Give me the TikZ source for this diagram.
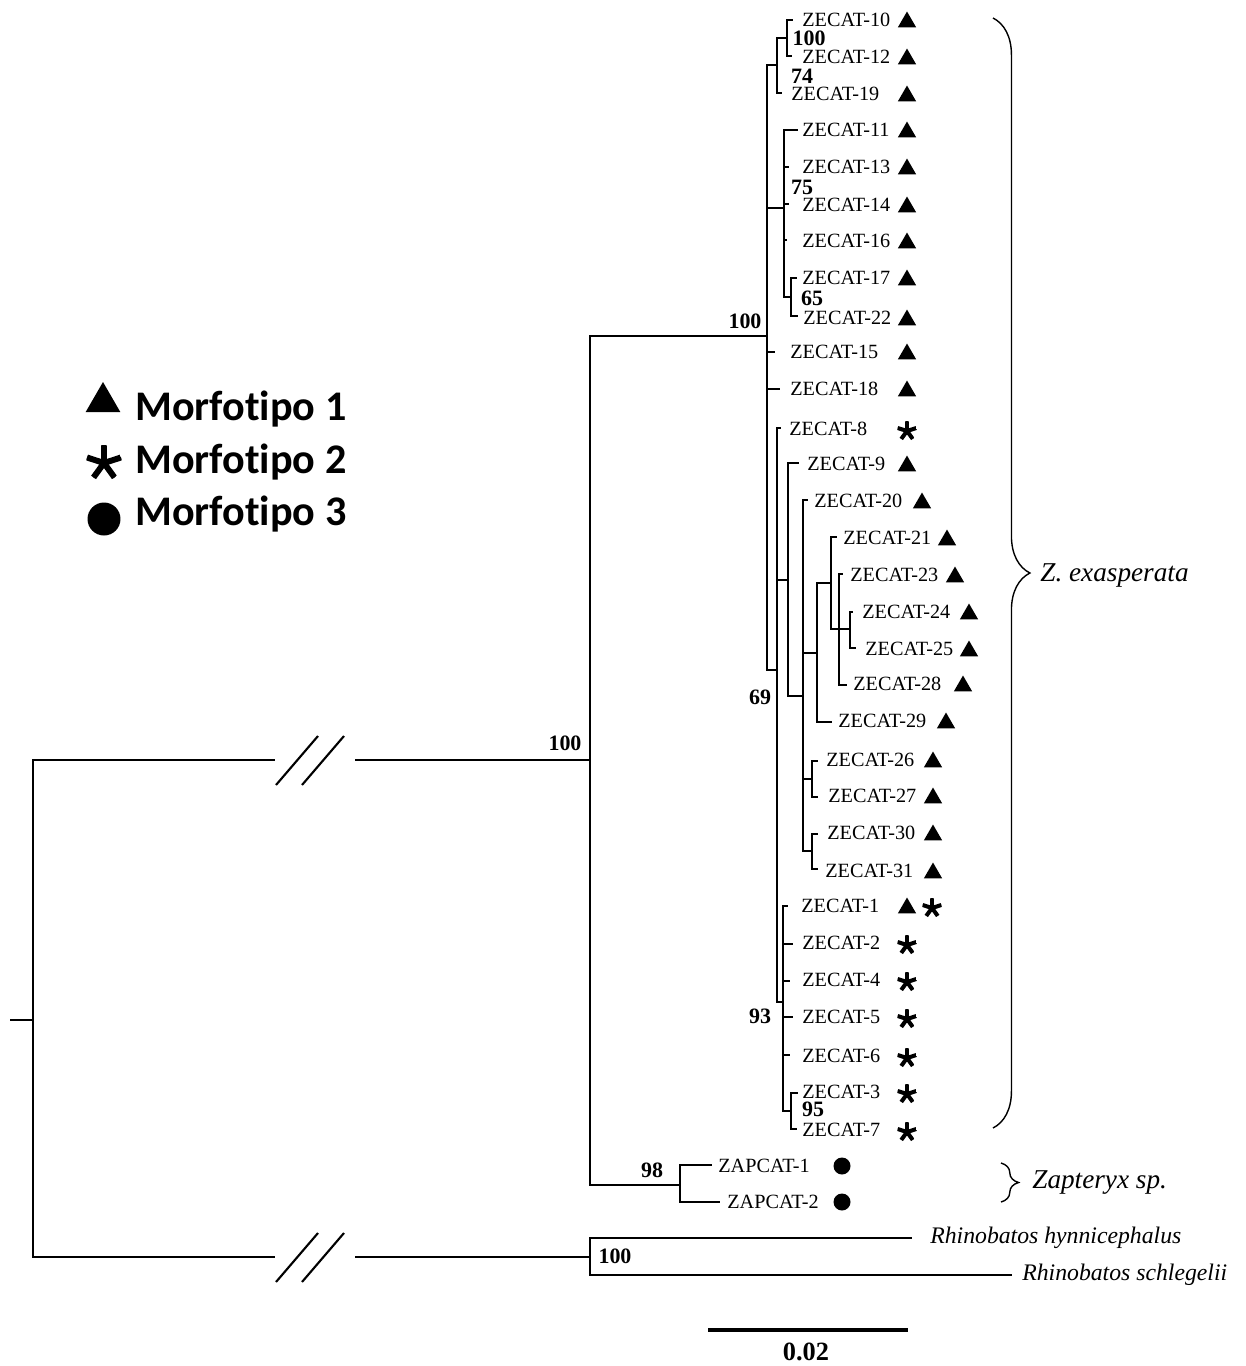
\documentclass[tikz,border=0pt]{standalone}
\usepackage{fontspec}
\setmainfont{Liberation Serif}
\newfontfamily\legfont[Ligatures=NoCommon]{Carlito}
\usepackage{tikz}
\usetikzlibrary{shapes.geometric,decorations.pathreplacing}

\begin{document}
\begin{tikzpicture}[x=0.02cm, y=-0.02cm,
  br/.style={line width=1.2pt},
  lab/.style={anchor=west, inner sep=0pt, font=\fontsize{11.5}{13}\selectfont},
  bs/.style={inner sep=0pt, font=\fontsize{12.5}{14}\selectfont\bfseries},
  sp/.style={anchor=west, inner sep=0pt, font=\fontsize{13.5}{15}\selectfont\itshape},
  grp/.style={anchor=west, inner sep=0pt, font=\fontsize{15.5}{17}\selectfont\itshape},
  leg/.style={anchor=base west, inner sep=0pt, font=\legfont\fontsize{24}{27}\selectfont\bfseries},
  tri/.style={regular polygon, regular polygon sides=3, fill, inner sep=0pt, minimum size=0.42cm},
  dot/.style={circle, fill, inner sep=0pt, minimum size=0.34cm},
  astk/.style={circle, inner sep=0pt, minimum size=0.4cm,
    path picture={\foreach \a in {90,18,162,234,306}
      \draw[line width=2.3pt] (path picture bounding box.center) -- ++(\a:0.2cm);}},
  bigastk/.style={circle, inner sep=0pt, minimum size=0.72cm,
    path picture={\foreach \a in {90,18,162,234,306}
      \draw[line width=3.4pt] (path picture bounding box.center) -- ++(\a:0.36cm);}},
  brc/.style={decorate, decoration={brace, amplitude=#1}, line width=0.8pt}]
\useasboundingbox (0,0) rectangle (1245,1366);
% Legend
\node[tri, minimum size=0.8cm] (lt1) at (103,402) {};
\node[leg] (lm1) at (135,420) {Morfotipo 1};
\node[bigastk] (lt2) at (104,463) {};
\node[leg] (lm2) at (135,473) {Morfotipo 2};
\node[dot, minimum size=0.66cm] (lt3) at (104,519) {};
\node[leg] (lm3) at (135,525) {Morfotipo 3};
% Root and broken branches
\coordinate (stub) at (10,1020);
\coordinate (root) at (33,1020);
\coordinate (b1a) at (275,760); \coordinate (b1b) at (355,760);
\coordinate (b2a) at (275,1257); \coordinate (b2b) at (355,1257);
\coordinate (nIn) at (590,760);
\coordinate (nOut) at (590,1257);
\draw[br] (stub) -- (root);
\draw[br] (root) |- (b1a); \draw[br] (b1b) -- (nIn);
\draw[br] (root) |- (b2a); \draw[br] (b2b) -- (nOut);
\draw[br] ([shift={(1,25)}]b1a) -- ++(42,-49);
\draw[br] ([shift={(27,25)}]b1a) -- ++(42,-49);
\draw[br] ([shift={(1,25)}]b2a) -- ++(42,-49);
\draw[br] ([shift={(27,25)}]b2a) -- ++(42,-49);
% Internal nodes
\coordinate (nZe) at (767,336);
\coordinate (nZa) at (680,1185);
\coordinate (nTop) at (777,65);
\coordinate (n1012) at (787,38);
\coordinate (n1122) at (784,208);
\coordinate (n1722) at (791,297);
\coordinate (nBig) at (777,670);
\coordinate (n9) at (788,580);
\coordinate (n20) at (803,696);
\coordinate (n29) at (817,653);
\coordinate (n21) at (831,583);
\coordinate (n23) at (839,629);
\coordinate (n24) at (850,629);
\coordinate (n2627) at (812,779);
\coordinate (n3031) at (812,851);
\coordinate (n93) at (783,1002);
\coordinate (n37) at (791,1111);
% Tips
\coordinate (t10) at (793,20);  \coordinate (t12) at (792,56);  \coordinate (t19) at (782,93);
\coordinate (t11) at (798,130); \coordinate (t13) at (789,167); \coordinate (t14) at (789,204);
\coordinate (t16) at (787,240); \coordinate (t17) at (797,278); \coordinate (t22) at (798,316);
\coordinate (t15) at (775,352); \coordinate (t18) at (780,389); \coordinate (t8) at (781,428);
\coordinate (t9) at (799,463);  \coordinate (t20) at (808,500); \coordinate (t21) at (837,537);
\coordinate (t23) at (843,574); \coordinate (t24) at (853,612); \coordinate (t25) at (856,648);
\coordinate (t28) at (847,685); \coordinate (t29) at (832,722); \coordinate (t26) at (818,761);
\coordinate (t27) at (818,797); \coordinate (t30) at (818,834); \coordinate (t31) at (818,869);
\coordinate (t1) at (788,906);  \coordinate (t2) at (793,944);  \coordinate (t4) at (790,981);
\coordinate (t5) at (793,1017); \coordinate (t6) at (790,1055); \coordinate (t3) at (798,1093);
\coordinate (t7) at (797,1129);
\coordinate (ta1) at (712,1165); \coordinate (ta2) at (720,1202);
\coordinate (tr1) at (912,1238); \coordinate (tr2) at (1012,1275);
% Branches
\draw[br] (nIn) |- (nZe) (nIn) |- (nZa);
\draw[br] (nZa) |- (ta1) (nZa) |- (ta2);
\draw[br] (nOut) |- (tr1) (nOut) |- (tr2);
\draw[br] (nZe) |- (nTop) (nZe) |- (n1122) (nZe) |- (t15) (nZe) |- (t18) (nZe) |- (nBig);
\draw[br] (nTop) |- (n1012) (nTop) |- (t19);
\draw[br] (n1012) |- (t10) (n1012) |- (t12);
\draw[br] (n1122) |- (t11) (n1122) |- (t13) (n1122) |- (t14) (n1122) |- (t16) (n1122) |- (n1722);
\draw[br] (n1722) |- (t17) (n1722) |- (t22);
\draw[br] (nBig) |- (t8) (nBig) |- (n9) (nBig) |- (n93);
\draw[br] (n9) |- (t9) (n9) |- (n20);
\draw[br] (n20) |- (t20) (n20) |- (n29) (n20) |- (n2627) (n20) |- (n3031);
\draw[br] (n29) |- (n21) (n29) |- (t29);
\draw[br] (n21) |- (t21) (n21) |- (n23);
\draw[br] (n23) |- (t23) (n23) |- (n24) (n23) |- (t28);
\draw[br] (n24) |- (t24) (n24) |- (t25);
\draw[br] (n2627) |- (t26) (n2627) |- (t27);
\draw[br] (n3031) |- (t30) (n3031) |- (t31);
\draw[br] (n93) |- (t1) (n93) |- (t2) (n93) |- (t4) (n93) |- (t5) (n93) |- (t6) (n93) |- (n37);
\draw[br] (n37) |- (t3) (n37) |- (t7);
% Leaf labels and morphotypes
\node[lab] (l10) at (802,20) {ZECAT-10};   \node[tri] (m10) at (907,22) {};
\node[lab] (l12) at (802,57) {ZECAT-12};   \node[tri] (m12) at (907,59) {};
\node[lab] (l19) at (791,94) {ZECAT-19};   \node[tri] (m19) at (907,96) {};
\node[lab] (l11) at (802,130) {ZECAT-11};  \node[tri] (m11) at (907,132) {};
\node[lab] (l13) at (802,167) {ZECAT-13};  \node[tri] (m13) at (907,169) {};
\node[lab] (l14) at (802,205) {ZECAT-14};  \node[tri] (m14) at (907,207) {};
\node[lab] (l16) at (802,241) {ZECAT-16};  \node[tri] (m16) at (907,243) {};
\node[lab] (l17) at (802,278) {ZECAT-17};  \node[tri] (m17) at (907,280) {};
\node[lab] (l22) at (803,318) {ZECAT-22};  \node[tri] (m22) at (907,320) {};
\node[lab] (l15) at (790,352) {ZECAT-15};  \node[tri] (m15) at (907,354) {};
\node[lab] (l18) at (790,389) {ZECAT-18};  \node[tri] (m18) at (907,391) {};
\node[lab] (l8) at (789,429) {ZECAT-8};    \node[astk] (m8) at (907,431) {};
\node[lab] (l9) at (807,464) {ZECAT-9};    \node[tri] (m9) at (907,466) {};
\node[lab] (l20) at (814,501) {ZECAT-20};  \node[tri] (m20) at (922,503) {};
\node[lab] (l21) at (843,538) {ZECAT-21};  \node[tri] (m21) at (947,540) {};
\node[lab] (l23) at (850,575) {ZECAT-23};  \node[tri] (m23) at (955,577) {};
\node[lab] (l24) at (862,612) {ZECAT-24};  \node[tri] (m24) at (969,614) {};
\node[lab] (l25) at (865,649) {ZECAT-25};  \node[tri] (m25) at (969,651) {};
\node[lab] (l28) at (853,684) {ZECAT-28};  \node[tri] (m28) at (963,686) {};
\node[lab] (l29) at (838,721) {ZECAT-29};  \node[tri] (m29) at (946,723) {};
\node[lab] (l26) at (826,760) {ZECAT-26};  \node[tri] (m26) at (933,762) {};
\node[lab] (l27) at (828,796) {ZECAT-27};  \node[tri] (m27) at (933,798) {};
\node[lab] (l30) at (827,833) {ZECAT-30};  \node[tri] (m30) at (933,835) {};
\node[lab] (l31) at (825,871) {ZECAT-31};  \node[tri] (m31) at (933,873) {};
\node[lab] (l1) at (801,906) {ZECAT-1};    \node[tri] (m1) at (907,908) {};
\node[astk] (m1b) at (932,908) {};
\node[lab] (l2) at (802,943) {ZECAT-2};    \node[astk] (m2) at (907,945) {};
\node[lab] (l4) at (802,980) {ZECAT-4};    \node[astk] (m4) at (907,982) {};
\node[lab] (l5) at (802,1017) {ZECAT-5};   \node[astk] (m5) at (907,1019) {};
\node[lab] (l6) at (802,1056) {ZECAT-6};   \node[astk] (m6) at (907,1058) {};
\node[lab] (l3) at (802,1092) {ZECAT-3};   \node[astk] (m3) at (907,1094) {};
\node[lab] (l7) at (802,1130) {ZECAT-7};   \node[astk] (m7) at (907,1132) {};
\node[lab] (la1) at (718,1166) {ZAPCAT-1}; \node[dot] (ma1) at (842,1166) {};
\node[lab] (la2) at (727,1202) {ZAPCAT-2}; \node[dot] (ma2) at (842,1202) {};
\node[sp] (lr1) at (930,1238) {Rhinobatos hynnicephalus};
\node[sp] (lr2) at (1022,1275) {Rhinobatos schlegelii};
% Bootstrap values
\node[bs] (bs1) at (809,38) {100};
\node[bs] (bs2) at (802,76) {74};
\node[bs] (bs3) at (802,187) {75};
\node[bs] (bs4) at (812,298) {65};
\node[bs] (bs5) at (745,321) {100};
\node[bs] (bs6) at (760,697) {69};
\node[bs] (bs7) at (760,1016) {93};
\node[bs] (bs8) at (813,1109) {95};
\node[bs] (bs9) at (565,743) {100};
\node[bs] (bs10) at (652,1170) {98};
\node[bs] (bs11) at (615,1256) {100};
% Groups
\coordinate (bz1) at (993,18); \coordinate (bz2) at (993,1128);
\draw[brc=21pt] (bz1) -- (bz2);
\node[grp] (gze) at (1040,575) {Z. exasperata};
\coordinate (ba1) at (1001,1163); \coordinate (ba2) at (1001,1202);
\draw[brc=10pt] (ba1) -- (ba2);
\node[grp] (gza) at (1032,1183) {Zapteryx sp.};
% Scale bar
\coordinate (sb1) at (708,1330); \coordinate (sb2) at (908,1330);
\draw[line width=2.3pt] (sb1) -- (sb2);
\node[bs, font=\fontsize{15}{17}\selectfont\bfseries] (sbl) at (806,1352) {0.02};
\end{tikzpicture}
\end{document}
